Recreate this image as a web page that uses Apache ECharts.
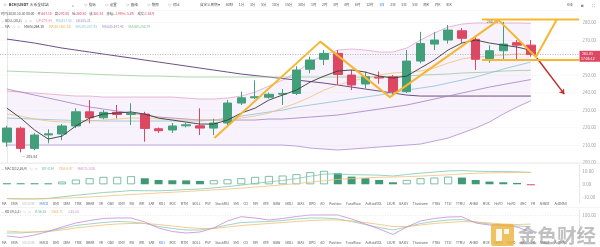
<!DOCTYPE html>
<html>
<head>
<meta charset="utf-8">
<script src="https://cdn.jsdelivr.net/npm/echarts/dist/echarts.min.js"></script>
<style>
html,body{margin:0;padding:0;background:#fff;overflow:hidden}
#main{width:600px;height:247px}
</style>
</head>
<body>
<div id="main"></div>
<script>
// ================= DATA =================
const categories = ['09-22','09-23','09-24','09-25','09-26','09-27','09-28','09-29','09-30',
  '10-01','10-02','10-03','10-04','10-05','10-06','10-07','10-08','10-09','10-10','10-11','10-12',
  '10-13','10-14','10-15','10-16','10-17','10-18','10-19','10-20','10-21','10-22','10-23','10-24',
  '10-25','10-26','10-27','10-28','10-29','10-30','10-31','11-01','11-02'];
// [open, close, low, high]
const candles = [
  [211.7,219.7,209.0,221.0],[219.6,208.1,205.84,220.5],[208.1,215.7,207.0,216.8],[215.8,216.4,211.0,219.0],
  [216.3,220.9,212.8,222.0],[220.9,229.0,219.7,231.0],[229.0,225.6,222.4,235.7],[225.6,228.7,224.7,230.0],
  [228.7,227.5,225.2,232.9],[227.5,228.0,221.4,233.8],[227.7,219.5,211.9,229.0],[219.3,218.2,216.9,220.0],
  [218.6,220.9,216.9,222.6],[221.0,221.6,220.1,222.7],[221.0,219.7,215.7,231.0],[219.7,222.6,215.7,225.0],
  [222.6,234.0,220.9,235.7],[234.0,237.0,232.9,240.5],[237.0,237.6,236.3,247.0],[237.3,239.0,236.6,240.0],
  [239.1,239.5,232.9,242.0],[239.5,252.9,238.6,255.0],[253.3,258.6,251.0,260.5],[259.0,262.4,255.7,264.3],
  [262.4,250.3,244.3,264.3],[250.0,244.3,241.4,252.9],[244.9,249.0,242.4,251.9],[248.8,248.3,245.0,252.0],
  [249.0,240.5,238.6,250.0],[240.5,258.0,239.7,264.3],[258.0,268.0,256.7,274.7],[267.7,270.0,264.3,274.7],
  [270.0,275.7,268.0,278.6],[275.3,271.0,268.3,276.9],[270.4,259.0,252.9,271.9],[259.5,263.9,257.0,267.0],
  [263.9,267.7,258.6,280.4],[268.5,267.1,258.6,270.0],[267.1,261.81,260.5,270.0]
];
const ma5 = [231.1,225.4,218.6,213.4,215.1,220.9,225.4,227.7,228.3,228.9,227.7,225.4,224.3,223.1,222.0,222.0,
  224.3,228.3,231.1,235.7,238.6,241.4,246.0,249.4,252.3,252.9,251.7,249.4,248.3,249.4,254.0,258.6,264.3,268.3,
  270.0,268.3,267.1,266.0,264.18];
const ma10 = [227.72,226.57,224.86,223.72,223.15,223.15,223.72,224.29,224.86,225.43,225.43,224.86,224.29,224.29,
  224.29,224.29,224.86,225.43,226.57,228.29,231.15,234.0,237.43,241.43,244.29,246.57,248.29,250.0,251.15,251.72,
  252.29,254.0,256.86,259.15,260.29,260.86,261.43,262.0,261.80];
const ma30 = [242.0,240.29,238.57,236.86,235.15,233.43,231.72,230.57,229.43,228.29,227.15,226.0,225.43,224.86,
  224.29,224.29,224.29,224.29,224.29,224.86,224.86,225.43,226.0,226.57,227.15,228.29,229.43,230.57,231.72,232.86,
  234.57,236.29,238.0,239.72,241.43,243.14,244.57,246.0,247.43];
const ma60 = [252.29,252.0,251.72,251.43,251.15,250.86,250.57,250.29,250.0,249.71,249.43,249.43,249.15,248.86,
  248.86,248.86,248.86,248.86,248.86,248.86,248.86,248.86,248.86,248.86,248.86,248.86,248.86,248.86,249.15,249.43,
  250.0,250.29,250.57,251.15,251.43,251.72,252.29,252.57,252.74];
const maLong = [270.57,269.43,268.29,266.86,265.43,264.29,263.14,262.0,260.86,259.72,258.57,257.43,256.29,255.15,
  254.0,252.86,251.72,250.57,249.71,248.86,248.0,247.14,246.29,245.43,244.29,243.14,242.0,240.86,239.72,238.57,
  238.0,238.0,238.0,238.0,238.0,238.0,238.0,238.0,238.0];
const bollUp = [240.86,240.29,239.72,239.14,238.57,238.0,238.0,237.43,237.43,237.43,237.43,237.43,237.43,236.86,
  236.29,236.29,236.86,238.0,240.29,243.71,247.14,251.72,257.43,261.43,264.29,264.86,264.29,263.14,263.14,265.43,
  270.0,274.0,277.43,279.14,279.72,279.72,279.72,279.72,279.54];
const bollMid = [225.43,225.15,224.86,224.57,224.29,224.0,224.0,223.72,223.72,223.72,223.72,223.72,223.72,223.72,
  223.72,224.29,225.43,226.57,227.72,228.86,230.0,231.72,232.86,234.0,235.15,236.29,237.43,238.57,240.0,241.43,
  242.57,243.71,245.43,247.14,248.86,251.15,253.43,255.43,257.43];
const bollLow = [210.0,210.0,210.0,210.0,210.0,210.0,210.0,210.0,210.0,210.0,210.0,210.0,210.0,210.0,210.0,210.0,
  210.0,210.0,210.0,210.0,210.0,209.43,208.29,207.72,207.14,207.72,208.29,208.86,209.43,210.0,210.57,212.29,214.0,
  216.86,219.72,223.15,227.72,231.72,235.31];
const macdHist = [0.4,0.3,0.2,0.5,2.0,3.5,4.5,5.5,5.5,6.0,4.5,3.2,3.0,2.9,2.5,3.0,3.7,4.5,5.5,6.2,6.5,7.5,9.0,10.0,
  8.2,5.7,4.5,3.2,1.5,3.2,4.5,5.0,5.7,5.0,3.2,2.0,1.5,1.0,-0.06];
const macdDif = [-10.65,-10.85,-10.85,-10.55,-9.4,-8.25,-7.25,-6.15,-5.55,-4.7,-4.85,-4.9,-4.5,-3.95,-3.55,-2.7,
  -1.75,-0.65,0.65,1.8,2.85,4.25,6.0,7.6,7.7,7.15,7.05,6.8,6.15,7.3,8.35,9.1,9.95,10.2,9.8,9.5,9.45,9.3,8.84];
const macdDea = [-10.8,-11.0,-11.0,-10.8,-10.4,-10.0,-9.5,-8.9,-8.3,-7.7,-7.1,-6.5,-6.0,-5.4,-4.8,-4.2,-3.6,-2.9,
  -2.1,-1.3,-0.4,0.5,1.5,2.6,3.6,4.3,4.8,5.2,5.4,5.7,6.1,6.6,7.1,7.7,8.2,8.5,8.7,8.8,8.87];
const kdjK = [31.6,31.6,35.6,39.5,49.4,61.3,67.2,73.1,77.1,75.1,69.2,57.3,49.4,43.5,43.5,51.4,63.2,73.1,75.1,77.1,
  81.0,87.0,90.9,90.9,87.0,77.1,65.2,53.4,43.5,55.3,69.2,77.1,83.0,85.0,75.1,67.2,63.2,59.3,56.25];
const kdjD = [39.5,35.6,35.6,37.5,43.5,51.4,57.3,63.2,67.2,69.2,69.2,65.2,59.3,53.4,49.4,49.4,55.3,61.3,65.2,69.2,
  73.1,77.1,81.0,83.0,83.0,79.1,73.1,65.2,57.3,57.3,63.2,69.2,73.1,77.1,75.1,71.1,67.2,65.2,66.71];
const kdjJ = [19.8,13.8,23.7,37.5,55.3,71.1,81.0,88.9,90.9,90.9,75.1,51.4,37.5,31.6,35.6,51.4,79.1,96.0,90.9,83.0,
  88.9,96.8,102.8,102.8,102.8,87.0,67.2,47.4,25.7,55.3,79.1,88.9,94.9,96.0,71.1,63.2,61.3,55.3,35.33];
const macdTicks = [-10,0,10];
const kdjTicks = [100];
const lastPrice = 261.81;
const countdown = '17:05:12';
// hand-drawn annotations: [slot index, price]
const trendPath = [[15.05,214.0],[22.73,269.1],[27.78,237.4],[35.66,281.4],[38.37,260.3],[39.86,281.4]];
const resistanceLine = [[34.46,281.7],[41.5,281.7]];
const supportLine = [[34.46,258.6],[41.5,258.6]];
const dropArrow = [[38.44,259.7],[40.43,239.1]];
// header texts
const symbolName = 'BCH/USDT';
const exchangeName = '火币全球站';
const toolItems = ['指标','设置','画线','快照','对比'];
const periods = ['自定义周期 ▾','60秒','1分','3分','5分','10分','15分','30分','1时','2时','3时','4时','6时','12时','1日','2日','3日','5日','周K','月K','年K'];
const activePeriod = '1日';
const infoRow = [['时间:','2020-10-30 00:00'],['开:','267.10'],['高:','270.00'],['低:','260.50'],['收:','261.81'],['涨幅:','-1.98%(-5.29)'],['成交:','1.83万']];
const bollRow = [['UP:','279.54'],['MB:','257.43'],['LB:','235.31']];
const maRow = [['MA(5):','264.18'],['MA(10):','261.80'],['MA(20):','257.43'],['MA(30):','247.43'],['MA(60):','252.74']];
const macdRow = [['DIF:','8.84'],['DEA:','8.87'],['MACD:','-0.06']];
const kdjRow = [['K:','56.25'],['D:','66.71'],['J:','35.33']];
const indicatorTabs = ['MA','EMA','VOLUME','MACD','DMI','DMA','TRIX','BRAR','VR','OBV','EMV','RSI','WR','SAR','KDJ','ROC',
  'MTM','BOLL','PSY','StochRSI','SMI','CCI','MFI','ATR','BBW','SKDJ','BIAS','DPO','AO','Position','FundFlow','AvHoldVOL',
  'LSUR','BASIS','Thvolume','FTBS','TTSI','TTMU','AHBO','MUX','HnFO','HnFD','AHC','FR','AHBST','AvDMAO'];

// ================= RENDER =================
const FONT = '"Noto Sans CJK SC","Noto Sans",sans-serif';
const RED = '#dc4862', GREEN = '#41a07a';
const chart = echarts.init(document.getElementById('main'), null, {renderer:'canvas', width:600, height:247});
const SLOT = 14.07, GL = -11.84, N = categories.length, GW = SLOT * N;

const ctx = document.createElement('canvas').getContext('2d');
function tw(t, s){ ctx.font = s + 'px ' + FONT; return ctx.measureText(t).width; }
function T(x, y, text, size, color, weight){
  return {type:'text', x:x, y:y, silent:true, z:100,
    style:{text:text, fill:color, font:(weight||'normal') + ' ' + size + 'px ' + FONT,
      textVerticalAlign:'middle', verticalAlign:'middle', textAlign:'left', align:'left'}};
}
function seq(x, y, segs, size){
  const out = [];
  segs.forEach(s => { out.push(T(x, y, s[0], size, s[1], s[3])); x += tw(s[0], size) + (s[2] || 0); });
  return out;
}
function spread(x0, x1, y, words, size, colorFn){
  const widths = words.map(w => tw(w, size));
  const total = widths.reduce((a,b)=>a+b, 0);
  const gap = (x1 - x0 - total) / (words.length - 1);
  const out = []; let x = x0;
  words.forEach((w,i) => { out.push(T(x, y, w, size, colorFn(w), 'normal')); x += widths[i] + gap; });
  return out;
}

const histData = macdHist.map((v,i) => {
  let st;
  if (v < 0) st = {color: RED};
  else if (i > 0 && v >= macdHist[i-1]) st = {color:'#ffffff', borderColor:'#62ad8e', borderWidth:0.8};
  else st = {color:'#3f9a73'};
  return {value:v, itemStyle:st};
});
const bandFill = bollUp.map((v,i) => +(v - bollLow[i]).toFixed(2));

const lineS = (data, color, w, extra) => Object.assign({type:'line', data:data, symbol:'none', silent:true,
  lineStyle:{color:color, width:w}, z:4, animation:false}, extra || {});

const option = {
  animation:false,
  backgroundColor:'#ffffff',
  grid:[
    {left:GL, top:10.3, width:GW, height:152.25},
    {left:GL, top:165, width:GW, height:38},
    {left:GL, top:210, width:GW, height:31}
  ],
  xAxis:[
    {type:'category', gridIndex:0, data:categories, boundaryGap:true, show:false},
    {type:'value', gridIndex:0, min:-0.5, max:N-0.5, show:false},
    {type:'category', gridIndex:1, data:categories, boundaryGap:true, show:false},
    {type:'category', gridIndex:2, data:categories, boundaryGap:true, show:false}
  ],
  yAxis:[
    {type:'value', gridIndex:0, position:'right', min:200, max:287, interval:10,
      axisLine:{show:true, lineStyle:{color:'#e2e2e2', width:0.8}}, axisTick:{show:false},
      splitLine:{show:true, lineStyle:{color:'#f5f5f5', width:0.6}},
      axisLabel:{fontSize:4.4, color:'#9a9a9a', margin:3.5, fontFamily:FONT, showMaxLabel:false,
        formatter:v => v.toFixed(2)}},
    {type:'value', gridIndex:1, position:'right', min:-14, max:14.4,
      axisLine:{show:true, lineStyle:{color:'#e2e2e2', width:0.8}}, axisTick:{show:false}, splitLine:{show:false},
      axisLabel:{fontSize:4.4, color:'#9a9a9a', margin:3.5, fontFamily:FONT, customValues:macdTicks,
        formatter:v => v.toFixed(2)}},
    {type:'value', gridIndex:2, position:'right', min:0, max:122.5,
      axisLine:{show:true, lineStyle:{color:'#e2e2e2', width:0.8}}, axisTick:{show:false}, splitLine:{show:false},
      axisLabel:{fontSize:4.4, color:'#9a9a9a', margin:3.5, fontFamily:FONT, customValues:kdjTicks,
        formatter:v => v.toFixed(2)}}
  ],
  series:[
    lineS(bollLow, '#b08ccf', 0.8, {stack:'boll', z:1}),
    lineS(bandFill, '#e3a6cb', 0.8, {stack:'boll', z:1, areaStyle:{color:'rgba(205,170,238,0.22)'}}),
    lineS(maLong, '#5e3a78', 0.9),
    lineS(ma60, '#9ccc9a', 0.8),
    lineS(ma30, '#a57fc4', 0.8),
    lineS(bollMid, '#8cc3d3', 0.8),
    lineS(ma10, '#f0c27e', 0.8),
    {type:'candlestick', data:candles, barWidth:9, z:5, silent:true,
      itemStyle:{color:GREEN, color0:RED, borderColor:GREEN, borderColor0:RED, borderWidth:1},
      markPoint:{symbol:'circle', symbolSize:1, silent:true, itemStyle:{color:'rgba(0,0,0,0)'},
        data:[
          {type:'max', valueDim:'highest', label:{show:true, position:'left', distance:1, fontSize:3.6, color:'#555', fontFamily:FONT,
            formatter:p => p.value.toFixed(2) + ' —'}},
          {type:'min', valueDim:'lowest', label:{show:true, position:'right', distance:1, offset:[0,4], fontSize:3.6, color:'#555', fontFamily:FONT,
            formatter:p => '— ' + p.value.toFixed(2)}}
        ]},
      markLine:{symbol:'none', silent:true, label:{show:false}, lineStyle:{color:'#9a9a9a', type:[1,1.5], width:0.7},
        data:[{yAxis:lastPrice}]}},
    lineS(ma5, '#3a3a3a', 0.9, {z:6}),
    lineS(trendPath, '#f5b731', 2, {xAxisIndex:1, z:8}),
    lineS(resistanceLine, '#f5b731', 2, {xAxisIndex:1, z:8}),
    lineS(supportLine, '#f5b731', 2, {xAxisIndex:1, z:8,
      markLine:{silent:true, symbol:['none','arrow'], symbolSize:5, label:{show:false},
        lineStyle:{color:'#c0302a', width:1.5, type:'solid'},
        data:[[{coord:dropArrow[0]},{coord:dropArrow[1]}]]}}),
    {type:'bar', xAxisIndex:2, yAxisIndex:1, data:histData, barWidth:8, barMinHeight:1, silent:true},
    lineS(macdDif, '#7fc6ad', 0.8, {xAxisIndex:2, yAxisIndex:1}),
    lineS(macdDea, '#f1c17c', 0.8, {xAxisIndex:2, yAxisIndex:1}),
    lineS(kdjK, '#88c9bf', 0.8, {xAxisIndex:3, yAxisIndex:2,
      markLine:{symbol:'none', silent:true, label:{show:false}, lineStyle:{color:'#dddddd', type:[1,1.5], width:0.6}, data:[{yAxis:100}]}}),
    lineS(kdjD, '#f0c071', 0.8, {xAxisIndex:3, yAxisIndex:2}),
    lineS(kdjJ, '#c48ad8', 0.8, {xAxisIndex:3, yAxisIndex:2})
  ]
};
chart.setOption(option);

// ---------- overlay texts ----------
const S = 3.3;
const g = [];
// row 1
g.push(...seq(3, 5, [['☆', '#999', 2], [symbolName, '#333', 2, 'bold'], [exchangeName, '#333', 0]], 3.8));
g.push(T(72, 5, '⌕', 4, '#666'));
let tx = 84;
toolItems.forEach(t => { g.push(...seq(tx, 5, [['◎', '#777', 1.2], [t, '#444', 0]], 3.5)); tx += 21; });
let px = 200;
periods.forEach(p => { const c = p === activePeriod ? '#2f7df6' : '#555'; g.push(T(px, 5, p, 3.5, c)); px += tw(p, 3.5) + 5.6; });
g.push(T(567, 5, 'K线', 3.4, '#666'));
g.push(T(581, 5, '◙', 4, '#777'));
g.push(T(592, 5, '⛶', 4, '#777'));
// row 2 info
const infoSegs = [];
infoRow.forEach((r,i) => { infoSegs.push([r[0], '#555', 0]); infoSegs.push([r[1], i === 0 ? '#555' : RED, 3]); });
g.push(...seq(1, 14, infoSegs, S));
// row 3 BOLL
const bSegs = [['—', '#999', 1], ['BOLL(20,2)', '#555', 2.5], ['◎', '#aaa', 1.5], ['×', '#aaa', 4]];
const bCol = ['#e08bb8', '#8cc3d3', '#a57fc4'];
bollRow.forEach((r,i) => bSegs.push([r[0] + r[1], bCol[i], 4]));
g.push(...seq(1, 20.5, bSegs, S));
// row 4 MA
const mSegs = [['—', '#999', 1], ['MA', '#555', 2.5], ['◎', '#aaa', 1.5], ['×', '#aaa', 4]];
const mCol = ['#3a3a3a', '#e6ad55', '#8cc3d3', '#a57fc4', '#7cbf88'];
maRow.forEach((r,i) => mSegs.push([r[0] + r[1], mCol[i], 5]));
g.push(...seq(1, 27, mSegs, S));
// MACD row
const macdSegs = [['—', '#999', 1], ['MACD(12,26,9)', '#555', 2.5], ['◎', '#aaa', 1.5], ['×', '#aaa', 4]];
const macdCol = ['#6dbb9f', '#e6ad55', '#e08bb8'];
macdRow.forEach((r,i) => macdSegs.push([r[0] + r[1], macdCol[i], 5]));
g.push(...seq(1, 169, macdSegs, S));
// KDJ row
const kSegs = [['—', '#999', 1], ['KDJ(9,3,3)', '#555', 2.5], ['◎', '#aaa', 1.5], ['×', '#aaa', 4]];
const kCol = ['#6dbb9f', '#e6ad55', '#c48ad8'];
kdjRow.forEach((r,i) => kSegs.push([r[0] + r[1], kCol[i], 5]));
g.push(...seq(1, 212, kSegs, S));
// indicator tabs
g.push(...spread(2, 567, 204, indicatorTabs, 3.2, w => w === 'VOLUME' ? '#bbb' : (w === 'MACD' ? '#2f7df6' : '#555')));
g.push(...spread(2, 567, 242.5, indicatorTabs, 3.2, w => w === 'VOLUME' ? '#bbb' : (w === 'KDJ' ? '#2f7df6' : '#555')));
// separators
g.push({type:'line', silent:true, z:90, shape:{x1:0, y1:163.2, x2:600, y2:163.2}, style:{stroke:'#e6e6e6', lineWidth:0.8}});
g.push({type:'line', silent:true, z:90, shape:{x1:0, y1:207.5, x2:600, y2:207.5}, style:{stroke:'#eeeeee', lineWidth:0.6}});
// last price tag
const py = chart.convertToPixel({yAxisIndex:0}, lastPrice);
g.push({type:'rect', silent:true, z:95, shape:{x:579.5, y:py - 3.6, width:20.5, height:11}, style:{fill:RED}});
g.push(T(582, py - 0.6, lastPrice.toFixed(2), 3.6, '#fff'));
g.push(T(581, py + 4.6, countdown, 3.5, '#fff'));
// watermark
g.push({type:'rect', silent:true, z:110, shape:{x:491, y:224, width:23, height:22, r:2}, style:{fill:'rgba(236,178,58,0.8)'}});
g.push({type:'rect', silent:true, z:111, shape:{x:496, y:229, width:6, height:12}, style:{fill:'rgba(255,255,255,0.9)'}});
g.push({type:'rect', silent:true, z:111, shape:{x:504, y:229, width:5, height:5}, style:{fill:'rgba(255,255,255,0.9)'}});
g.push({type:'text', silent:true, z:110, x:518, y:236,
  style:{text:'金色财经', fill:'rgba(140,140,140,0.55)', font:'bold 19.5px ' + FONT, textVerticalAlign:'middle', verticalAlign:'middle'}});
chart.setOption({graphic:{elements:g}});
</script>
</body>
</html>
